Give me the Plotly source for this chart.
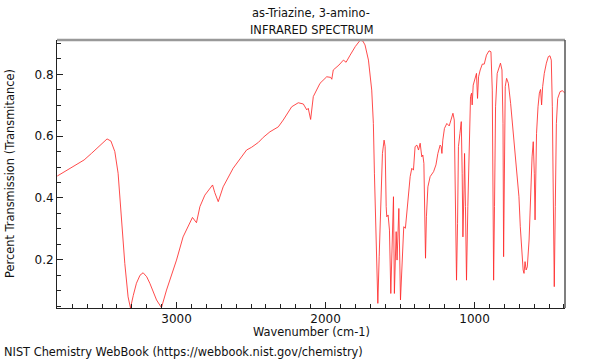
import plotly.graph_objects as go

wavenumber = [
    3800, 3750, 3672, 3620, 3571, 3520, 3490, 3466, 3440, 3414, 3392, 3370, 3347, 3325, 3309,
    3290, 3269, 3245, 3224, 3200, 3179, 3134, 3101, 3067, 3000, 2956, 2911, 2893, 2866, 2843,
    2810, 2780, 2758, 2743, 2720, 2687, 2620, 2530, 2496, 2450, 2418, 2373, 2317, 2284, 2227,
    2183, 2149, 2126, 2116, 2100, 2082, 2037, 1992, 1965, 1958, 1948, 1910, 1880, 1862, 1835,
    1800, 1768, 1750, 1735, 1712, 1690, 1679, 1672, 1665, 1656, 1649, 1640, 1629, 1618, 1607,
    1600, 1593, 1589, 1580, 1571, 1562, 1553, 1544, 1538, 1531, 1526, 1520, 1508, 1497, 1486,
    1475, 1464, 1450, 1432, 1421, 1410, 1399, 1387, 1376, 1365, 1354, 1347, 1340, 1334, 1329,
    1323, 1313, 1298, 1275, 1259, 1246, 1231, 1224, 1219, 1213, 1202, 1186, 1170, 1157, 1145,
    1136, 1130, 1125, 1121, 1114, 1108, 1098, 1089, 1083, 1078, 1071, 1067, 1061, 1054, 1045,
    1036, 1027, 1020, 1016, 1009, 996, 987, 980, 973, 962, 948, 935, 920, 903, 890,
    881, 876, 872, 866, 859, 848, 834, 826, 816, 809, 805, 800, 794, 785, 773,
    758, 742, 729, 713, 702, 693, 684, 674, 668, 661, 654, 646, 634, 623, 614,
    606, 599, 594, 590, 584, 574, 565, 557, 550, 543, 532, 518, 505, 494, 485,
    478, 471, 465, 458, 451, 442, 426, 411, 393,
]
transmittance = [
    0.471, 0.485, 0.506, 0.523, 0.544, 0.566, 0.582, 0.591, 0.584, 0.550, 0.480, 0.339, 0.188, 0.080, 0.044,
    0.085, 0.124, 0.150, 0.158, 0.145, 0.124, 0.070, 0.045, 0.102, 0.199, 0.274, 0.323, 0.337, 0.320, 0.372,
    0.409, 0.428, 0.442, 0.417, 0.388, 0.436, 0.496, 0.555, 0.564, 0.580, 0.596, 0.614, 0.630, 0.652, 0.695,
    0.708, 0.704, 0.685, 0.690, 0.654, 0.728, 0.771, 0.792, 0.790, 0.784, 0.814, 0.830, 0.846, 0.839, 0.862,
    0.890, 0.910, 0.908, 0.895, 0.846, 0.749, 0.641, 0.480, 0.318, 0.156, 0.059, 0.210, 0.426, 0.544, 0.587,
    0.566, 0.372, 0.339, 0.345, 0.296, 0.091, 0.307, 0.404, 0.091, 0.220, 0.291, 0.199, 0.366, 0.070, 0.177,
    0.307, 0.302, 0.383, 0.469, 0.496, 0.490, 0.566, 0.571, 0.555, 0.577, 0.533, 0.539, 0.512, 0.318, 0.205,
    0.339, 0.436, 0.469, 0.485, 0.507, 0.544, 0.571, 0.566, 0.544, 0.587, 0.625, 0.641, 0.633, 0.652, 0.674,
    0.652, 0.372, 0.210, 0.134, 0.318, 0.566, 0.609, 0.647, 0.480, 0.274, 0.426, 0.544, 0.372, 0.134, 0.372,
    0.587, 0.728, 0.739, 0.701, 0.765, 0.792, 0.803, 0.722, 0.792, 0.814, 0.833, 0.833, 0.862, 0.876, 0.873,
    0.749, 0.480, 0.134, 0.372, 0.695, 0.803, 0.830, 0.836, 0.814, 0.641, 0.210, 0.587, 0.760, 0.787, 0.771,
    0.706, 0.620, 0.555, 0.480, 0.404, 0.307, 0.232, 0.167, 0.156, 0.194, 0.167, 0.177, 0.264, 0.426, 0.533,
    0.582, 0.480, 0.329, 0.480, 0.609, 0.695, 0.739, 0.751, 0.701, 0.760, 0.803, 0.836, 0.857, 0.860, 0.846,
    0.695, 0.372, 0.113, 0.372, 0.641, 0.722, 0.744, 0.747, 0.739,
]

x_ticks = [3000, 2000, 1000]
x_tick_labels = ["3000", "2000", "1000"]
y_ticks = [0.2, 0.4, 0.6, 0.8]
y_tick_labels = ["0.2", "0.4", "0.6", "0.8"]

title_line1 = "as-Triazine, 3-amino-"
title_line2 = "INFRARED SPECTRUM"
x_title = "Wavenumber (cm-1)"
y_title = "Percent Transmission (Transmitance)"
footer = "NIST Chemistry WebBook (https://webbook.nist.gov/chemistry)"

FONT = "DejaVu Sans"
FS = 11.4

fig = go.Figure()
fig.add_trace(go.Scatter(
    x=wavenumber, y=transmittance, mode="lines",
    line=dict(color="#ff2a2a", width=0.85),
    hoverinfo="skip", showlegend=False,
))

L, R, T, B = 57, 35, 40, 52
W, H = 600, 360
pw, ph = W - L - R, H - T - B

def px_x(p):
    return (p - L) / pw

def px_y(p):
    return (H - B - p) / ph

txt = dict(family=FONT, size=FS, color="#111")

fig.update_layout(
    width=W, height=H,
    margin=dict(l=L, r=R, t=T, b=B, pad=0),
    paper_bgcolor="white", plot_bgcolor="white",
    font=txt,
    xaxis=dict(
        range=[3802, 393], autorange=False,
        tickvals=x_ticks, ticktext=x_tick_labels,
        ticks="inside", ticklen=6, tickwidth=1, tickcolor="#222",
        minor=dict(dtick=100, tick0=0, ticks="inside", ticklen=4, tickwidth=1, tickcolor="#222"),
        showline=True, linecolor="#222", linewidth=1, mirror=False,
        showgrid=False, zeroline=False,
        tickfont=dict(family=FONT, size=12, color="#111"),
    ),
    yaxis=dict(
        range=[0.044, 0.911], autorange=False,
        tickvals=y_ticks, ticktext=y_tick_labels,
        ticks="inside", ticklen=6, tickwidth=1, tickcolor="#222",
        minor=dict(dtick=0.05, tick0=0, ticks="inside", ticklen=4, tickwidth=1, tickcolor="#222"),
        showline=True, linecolor="#222", linewidth=1, mirror=False,
        showgrid=False, zeroline=False,
        tickfont=dict(family=FONT, size=12, color="#111"),
    ),
    shapes=[
        dict(type="line", xref="paper", yref="paper", x0=0, x1=1, y0=1, y1=1,
             line=dict(color="#999999", width=2.5)),
        dict(type="line", xref="paper", yref="paper", x0=1, x1=1, y0=0, y1=1,
             line=dict(color="#555555", width=1.5)),
    ],
    annotations=[
        dict(text=title_line1, xref="paper", yref="paper", x=0.5, y=px_y(13),
             xanchor="center", yanchor="middle", showarrow=False, font=txt),
        dict(text=title_line2, xref="paper", yref="paper", x=0.5, y=px_y(30),
             xanchor="center", yanchor="middle", showarrow=False, font=txt),
        dict(text=x_title, xref="paper", yref="paper", x=0.5, y=px_y(332),
             xanchor="center", yanchor="middle", showarrow=False, font=txt),
        dict(text=y_title, xref="paper", yref="paper", x=px_x(10), y=px_y(174),
             xanchor="center", yanchor="middle", showarrow=False, textangle=-90,
             font=txt),
        dict(text=footer, xref="paper", yref="paper", x=px_x(2), y=px_y(352),
             xanchor="left", yanchor="middle", showarrow=False, font=txt),
    ],
)

fig.write_html(
    "out.html",
    config={"displayModeBar": False, "staticPlot": True},
    post_script="document.body.style.margin='0';document.body.style.padding='0';",
)
